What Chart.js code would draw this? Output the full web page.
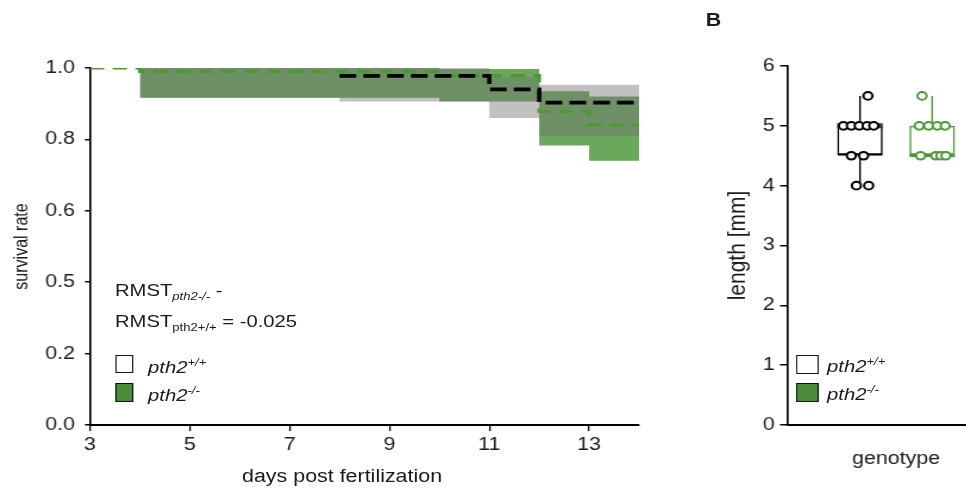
<!DOCTYPE html>
<html>
<head>
<meta charset="utf-8">
<script src="https://cdn.jsdelivr.net/npm/chart.js@4.4.1/dist/chart.umd.min.js"></script>
<style>
  html, body { margin: 0; padding: 0; background: #fff; width: 966px; height: 489px; overflow: hidden; }
  /* the original figure is slightly stretched horizontally, so draw narrow and scale */
  #stage { position: absolute; left: 0; top: 0; width: 812px; height: 489px;
           transform: scaleX(1.19); transform-origin: 0 0;
           font-family: "Liberation Sans", Arial, sans-serif; color: #1a1a1a; }
  canvas { position: absolute; top: 0; }
  #survival { left: 0; }
  #length { left: 600px; }
  .txt { position: absolute; white-space: nowrap; line-height: 1; }
  .ann { font-size: 17px; }
  .lg { font-size: 17px; font-style: italic; }
  .sub { font-size: 11px; position: relative; top: 4px; }
  .sup { font-size: 11px; position: relative; top: -7px; }
  .sq { position: absolute; box-sizing: border-box; border: 1.5px solid #111; }
</style>
</head>
<body>
<div id="stage">
  <canvas id="survival" width="560" height="489"></canvas>
  <canvas id="length" width="250" height="489"></canvas>

  <div class="txt" style="left:593px;top:11px;font-size:18px;font-weight:bold;">B</div>

  <div class="txt ann" style="left:96.6px;top:281.5px;">RMST<span class="sub" style="font-style:italic">pth2-/-</span> -</div>
  <div class="txt ann" style="left:96.6px;top:312.5px;">RMST<span class="sub">pth2+/+</span> = -0.025</div>

  <div class="sq" style="left:96.6px;top:355px;width:15.2px;height:18px;background:#fff;"></div>
  <div class="sq" style="left:96.6px;top:383px;width:15.2px;height:19px;background:#4a8c3a;"></div>
  <div class="txt lg" style="left:124.4px;top:358.6px;">pth2<span class="sup">+/+</span></div>
  <div class="txt lg" style="left:124.4px;top:387px;">pth2<span class="sup">-/-</span></div>

  <div class="txt" style="left:203.4px;top:466.5px;font-size:18px;">days post fertilization</div>

  <div class="sq" style="left:669px;top:355px;width:18.5px;height:19px;background:#fff;"></div>
  <div class="sq" style="left:669px;top:383px;width:18.5px;height:19px;background:#4a8c3a;"></div>
  <div class="txt lg" style="left:695px;top:358px;">pth2<span class="sup">+/+</span></div>
  <div class="txt lg" style="left:695px;top:386px;">pth2<span class="sup">-/-</span></div>
</div>

<script>
// ---- survival (Kaplan-Meier) data ----
const xTicks = [3, 5, 7, 9, 11, 13];
const yTicks = [0, 0.2, 0.4, 0.6, 0.8, 1.0];
const yTickLabels = ['0.0', '0.2', '0.5', '0.6', '0.8', '1.0'];

// pth2+/+ (black)
const wtDays = [8, 11, 12, 14];
const wtSurv = [0.978, 0.94, 0.903, 0.903];
const wtBandDays = [4, 8, 11, 12, 14];
const wtUpper = [1.0, 1.0, 0.975, 0.953, 0.953];
const wtLower = [0.917, 0.906, 0.86, 0.81, 0.81];

// pth2-/- (green)
const koDays = [3, 4, 10, 12, 13, 14];
const koSurv = [1.0, 0.99, 0.979, 0.878, 0.84, 0.84];
const koBandDays = [4, 10, 12, 13, 14];
const koUpper = [1.0, 0.997, 0.935, 0.92, 0.92];
const koLower = [0.917, 0.906, 0.783, 0.74, 0.74];

// ---- length data ----
const genotypes = ['pth2+/+', 'pth2-/-'];
const boxQ1 = [4.5, 4.5];
const boxMedian = [5.0, 4.5];
const boxQ3 = [5.0, 5.0];
const whiskerLow = [4.0, 4.5];
const whiskerHigh = [5.5, 5.5];
const lengthWT = [5.5, 5.0, 5.0, 5.0, 5.0, 5.0, 4.5, 4.5, 4.0, 4.0];
const jitterWT = [0.11, -0.23, -0.12, -0.01, 0.1, 0.19, -0.12, 0.05, -0.05, 0.12];
const lengthKO = [5.5, 5.0, 5.0, 5.0, 5.0, 4.5, 4.5, 4.5, 4.5];
const jitterKO = [-0.14, -0.18, -0.05, 0.07, 0.18, -0.16, 0.05, 0.12, 0.19];

const BLACK = '#000000';
const GREEN = '#4d9a35';
const FONT = 'Liberation Sans';

function pts(xs, ys) {
  return xs.map((x, i) => ({ x: x, y: ys[i] }));
}

function stepLine(data, color, width, dash, order) {
  return {
    type: 'line', data: data, stepped: true,
    borderColor: color, borderWidth: width, borderDash: dash,
    pointRadius: 0, fill: false, order: order
  };
}

function band(data, color, fill, order) {
  return {
    type: 'line', data: data, stepped: true,
    borderWidth: 0, borderColor: 'rgba(0,0,0,0)', backgroundColor: color,
    pointRadius: 0, fill: fill, order: order
  };
}

new Chart(document.getElementById('survival'), {
  type: 'line',
  data: {
    datasets: [
      stepLine(pts(wtDays, wtSurv), BLACK, 3.6, [14, 6], 0),
      stepLine(pts(koDays, koSurv), '#4a9a30', 3, [12, 7], 1),
      band(pts(wtBandDays, wtUpper), 'rgba(113,113,113,0.44)', '+1', 2),
      band(pts(wtBandDays, wtLower), 'rgba(113,113,113,0.44)', false, 2),
      band(pts(koBandDays, koUpper), 'rgba(60,140,40,0.76)', '+1', 3),
      band(pts(koBandDays, koLower), 'rgba(60,140,40,0.76)', false, 3)
    ]
  },
  options: {
    responsive: false,
    animation: false,
    layout: { padding: { top: 68, right: 23, bottom: 0, left: 0 } },
    plugins: { legend: { display: false }, tooltip: { enabled: false } },
    scales: {
      x: {
        type: 'linear', min: 3, max: 14,
        afterBuildTicks: s => { s.ticks = xTicks.map(v => ({ value: v })); },
        afterFit: s => { s.height = 64; },
        ticks: { color: '#1a1a1a', padding: 3, font: { family: FONT, size: 18 }, maxRotation: 0 },
        grid: { drawOnChartArea: false, tickLength: 6, color: '#000', lineWidth: 1.3 },
        border: { color: '#000', width: 2 }
      },
      y: {
        min: 0, max: 1,
        afterBuildTicks: s => { s.ticks = yTicks.map(v => ({ value: v })); },
        afterFit: s => { s.width = 75.6; },
        ticks: {
          color: '#1a1a1a', padding: 8.4, font: { family: FONT, size: 18 },
          callback: (v, i) => yTickLabels[i]
        },
        grid: { drawOnChartArea: false, tickLength: 4.2, color: '#000', lineWidth: 1.5 },
        border: { color: '#000', width: 1.7 },
        title: { display: true, text: 'survival rate', color: '#1a1a1a',
                 font: { family: FONT, size: 16 }, padding: { top: 8.6, bottom: 0 } }
      }
    }
  }
});

// ---- length panel ----
const boxHalf = 0.315;
const colors = [BLACK, GREEN];

function whiskerSet(i) {
  const x = i + 1;
  return {
    type: 'line', spanGaps: false,
    data: [{ x: x, y: whiskerLow[i] }, { x: x, y: boxQ1[i] }, { x: x, y: null },
           { x: x, y: boxQ3[i] }, { x: x, y: whiskerHigh[i] }],
    borderColor: colors[i], borderWidth: 1.4, pointRadius: 0, order: 2
  };
}

function medianSet(i, color, width) {
  const x = i + 1;
  return {
    type: 'line',
    data: [{ x: x - boxHalf, y: boxMedian[i] }, { x: x + boxHalf, y: boxMedian[i] }],
    borderColor: color, borderWidth: width, pointRadius: 0, order: 1
  };
}

function pointSet(vals, jit, group, color) {
  return {
    type: 'scatter',
    data: vals.map((v, i) => ({ x: group + jit[i], y: v })),
    pointStyle: 'circle', pointRadius: 3.8, borderWidth: 2,
    borderColor: color, backgroundColor: '#fff', order: 0
  };
}

new Chart(document.getElementById('length'), {
  type: 'scatter',
  data: {
    datasets: [
      {
        type: 'bar',
        data: genotypes.map((g, i) => ({ x: i + 1, y: [boxQ1[i], boxQ3[i]] })),
        backgroundColor: 'rgba(255,255,255,0)',
        borderColor: colors, borderWidth: { top: 1.5, bottom: 2.5, left: 1.5, right: 1.5 },
        borderSkipped: false, barPercentage: 0.63, categoryPercentage: 1, order: 3
      },
      whiskerSet(0), whiskerSet(1),
      medianSet(0, '#3a3a3a', 5), medianSet(1, GREEN, 2.6),
      pointSet(lengthWT, jitterWT, 1, BLACK),
      pointSet(lengthKO, jitterKO, 2, GREEN)
    ]
  },
  options: {
    responsive: false,
    animation: false,
    layout: { padding: { top: 66, right: 5, bottom: 0, left: 0 } },
    plugins: { legend: { display: false }, tooltip: { enabled: false } },
    scales: {
      x: {
        type: 'linear', min: 0, max: 3, offset: false,
        afterBuildTicks: s => { s.ticks = [0, 1, 2, 3].map(v => ({ value: v })); },
        afterFit: s => { s.height = 64; },
        ticks: { display: false },
        grid: { display: false, offset: false },
        border: { color: '#000', width: 2 },
        title: { display: true, text: 'genotype', color: '#1a1a1a',
                 font: { family: FONT, size: 18 }, padding: { top: 0, bottom: 19 } }
      },
      y: {
        min: 0, max: 6,
        ticks: { stepSize: 1, color: '#1a1a1a', padding: 4.5, font: { family: FONT, size: 18 } },
        afterFit: s => { s.width = 62; },
        grid: { drawOnChartArea: false, tickLength: 6.5, color: '#000', lineWidth: 1.5 },
        border: { color: '#000', width: 1.7 },
        title: { display: true, text: 'length [mm]', color: '#1a1a1a',
                 font: { family: FONT, size: 21 }, padding: { top: 7.4, bottom: 0 } }
      }
    }
  }
});
</script>
</body>
</html>
